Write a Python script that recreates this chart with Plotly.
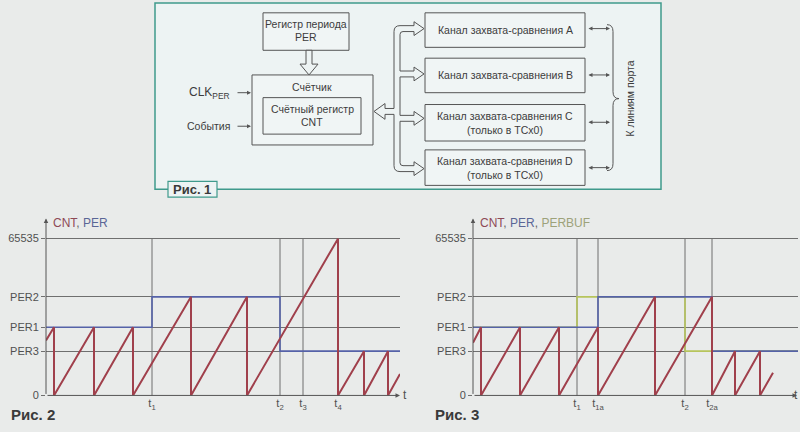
import plotly.graph_objects as go

W, H = 800, 432

# ------------------------------------------------------------------ data
PER1, PER2, PER3, CNT_MAX = 28500, 41200, 18500, 65535

y_tick_vals = [0, PER3, PER1, PER2, CNT_MAX]
y_tick_text = ["0", "PER3", "PER1", "PER2", "65535"]

# Рис. 2
fig2_t = [0, 8, 8, 48, 48, 87, 87, 145, 145, 201, 201, 292, 292, 318, 318, 342, 342, 354]
fig2_cnt = [23000, PER1, 0, PER1, 0, PER1, 0, PER2, 0, PER2, 0, CNT_MAX, 0, PER3, 0, PER3, 0, 9000]
fig2_per_t = [0, 106, 106, 234, 234, 354]
fig2_per = [PER1, PER1, PER2, PER2, PER3, PER3]
fig2_marks = [106, 234, 257, 292]
fig2_mark_labels = ["t<sub>1</sub>", "t<sub>2</sub>", "t<sub>3</sub>", "t<sub>4</sub>"]

# Рис. 3
fig3_t = [0, 8, 8, 47, 47, 86, 86, 125, 125, 182, 182, 239, 239, 262, 262, 287, 287, 300]
fig3_cnt = [22000, PER1, 0, PER1, 0, PER1, 0, PER1, 0, PER2, 0, PER2, 0, PER3, 0, PER3, 0, 9500]
fig3_per_t = [0, 125, 125, 239, 239, 325]
fig3_per = [PER1, PER1, PER2, PER2, PER3, PER3]
fig3_buf_t = [0, 104, 104, 212, 212, 325]
fig3_buf = [PER1, PER1, PER2, PER2, PER3, PER3]
fig3_marks = [104, 125, 212, 239]
fig3_mark_labels = ["t<sub>1</sub>", "t<sub>1a</sub>", "t<sub>2</sub>", "t<sub>2a</sub>"]

# block diagram labels
channel_labels = [
    ["Канал захвата-сравнения A"],
    ["Канал захвата-сравнения B"],
    ["Канал захвата-сравнения C", "(только в TCx0)"],
    ["Канал захвата-сравнения D", "(только в TCx0)"],
]

# ------------------------------------------------------------------ style
FONT = "Liberation Sans, Arial, sans-serif"
BG = "#e9ebea"
FRAME_FILL = "#edf3f3"
TEAL = "#3f9a8c"
INK = "#505050"
GRID = "#6f6f6f"
RED = "#a0404c"
BLUE = "#5562a8"
GREEN = "#b7c55c"

Y_TOP = 74600
X1_RANGE = [0, 354]
X2_RANGE = [0, 325]


def px(x):
    return x / W


def py(y):
    return 1 - y / H


def pt(x, y):
    return f"{px(x):.5f},{py(y):.5f}"


fig = go.Figure()

# ------------------------------------------------------------------ traces
fig.add_trace(go.Scatter(x=fig2_per_t, y=fig2_per, mode="lines",
                         line=dict(color=BLUE, width=1.6), xaxis="x", yaxis="y",
                         hoverinfo="skip", showlegend=False))
fig.add_trace(go.Scatter(x=fig2_t, y=fig2_cnt, mode="lines",
                         line=dict(color=RED, width=2), xaxis="x", yaxis="y",
                         hoverinfo="skip", showlegend=False))

fig.add_trace(go.Scatter(x=fig3_buf_t, y=fig3_buf, mode="lines",
                         line=dict(color=GREEN, width=1.6), xaxis="x2", yaxis="y2",
                         hoverinfo="skip", showlegend=False))
fig.add_trace(go.Scatter(x=fig3_per_t, y=fig3_per, mode="lines",
                         line=dict(color=BLUE, width=1.6), xaxis="x2", yaxis="y2",
                         hoverinfo="skip", showlegend=False))
fig.add_trace(go.Scatter(x=fig3_t, y=fig3_cnt, mode="lines",
                         line=dict(color=RED, width=2), xaxis="x2", yaxis="y2",
                         hoverinfo="skip", showlegend=False))

# ------------------------------------------------------------------ axes
ydom = [py(401), py(220)]
yaxis_common = dict(range=[0, Y_TOP], domain=ydom, tickvals=y_tick_vals, ticktext=y_tick_text,
                    showgrid=True, gridcolor=GRID, gridwidth=1, zeroline=False, showline=False,
                    ticks="outside", ticklen=4, tickcolor=GRID,
                    tickfont=dict(family=FONT, size=11, color=INK), fixedrange=True)
xaxis_common = dict(showgrid=False, zeroline=False, showline=False, ticks="",
                    tickfont=dict(family=FONT, size=11, color=INK), fixedrange=True)

fig.update_layout(
    xaxis=dict(domain=[px(46), px(400)], range=X1_RANGE, anchor="y",
               tickvals=fig2_marks, ticktext=fig2_mark_labels, **xaxis_common),
    yaxis=dict(anchor="x", **yaxis_common),
    xaxis2=dict(domain=[px(473), px(798)], range=X2_RANGE, anchor="y2",
                tickvals=fig3_marks, ticktext=fig3_mark_labels, **xaxis_common),
    yaxis2=dict(anchor="x2", **yaxis_common),
)

shapes = []
annotations = []

# vertical time marker lines
for t in fig2_marks:
    shapes.append(dict(type="line", xref="x", yref="y", x0=t, x1=t, y0=-1200, y1=CNT_MAX,
                       line=dict(color=GRID, width=1), layer="below"))
for t in fig3_marks:
    shapes.append(dict(type="line", xref="x2", yref="y2", x0=t, x1=t, y0=-1200, y1=CNT_MAX,
                       line=dict(color=GRID, width=1), layer="below"))

# axis arrows
for xr, yr, xend in (("x", "y", X1_RANGE[1]), ("x2", "y2", X2_RANGE[1] - 1)):
    annotations.append(dict(xref=xr, yref=yr, axref=xr, ayref=yr, x=0, y=Y_TOP - 600, ax=0, ay=0,
                            text="", showarrow=True, arrowhead=2, arrowsize=0.9,
                            arrowwidth=1, arrowcolor="#555555"))
    annotations.append(dict(xref=xr, yref=yr, axref=xr, ayref=yr, x=xend, y=0, ax=0, ay=0,
                            text="", showarrow=True, arrowhead=2, arrowsize=0.9,
                            arrowwidth=1, arrowcolor="#555555"))

# axis "t" labels
annotations.append(dict(xref="paper", yref="paper", x=px(401), y=py(401), text="t",
                        showarrow=False, xanchor="left", yanchor="middle",
                        font=dict(family=FONT, size=12, color=INK)))
annotations.append(dict(xref="paper", yref="paper", x=px(792), y=py(401), text="t",
                        showarrow=False, xanchor="left", yanchor="middle",
                        font=dict(family=FONT, size=12, color=INK)))

# series titles
annotations.append(dict(xref="paper", yref="paper", x=px(51), y=py(226),
                        text='<span style="color:#8e4a56">CNT</span>, <span style="color:#5a6696">PER</span>',
                        showarrow=False, xanchor="left", yanchor="middle",
                        font=dict(family=FONT, size=12, color="#666666")))
annotations.append(dict(xref="paper", yref="paper", x=px(478), y=py(226),
                        text='<span style="color:#8e4a56">CNT</span>, <span style="color:#5a6696">PER</span>, '
                             '<span style="color:#9da27a">PERBUF</span>',
                        showarrow=False, xanchor="left", yanchor="middle",
                        font=dict(family=FONT, size=12, color="#666666")))

# figure captions
annotations.append(dict(xref="paper", yref="paper", x=px(9), y=py(420), text="<b>Рис. 2</b>",
                        showarrow=False, xanchor="left", yanchor="middle",
                        font=dict(family=FONT, size=15, color="#3a3a3a")))
annotations.append(dict(xref="paper", yref="paper", x=px(433), y=py(420), text="<b>Рис. 3</b>",
                        showarrow=False, xanchor="left", yanchor="middle",
                        font=dict(family=FONT, size=15, color="#3a3a3a")))

# ------------------------------------------------------------------ block diagram (Рис. 1)
def rect(x0, y0, x1, y1, line=INK, fill=FRAME_FILL, width=1):
    return dict(type="rect", xref="paper", yref="paper", x0=px(x0), x1=px(x1), y0=py(y1), y1=py(y0),
                line=dict(color=line, width=width), fillcolor=fill, layer="above")


def text(x, y, s, size=10.5, anchor="center", color="#3c3c3c", angle=0):
    return dict(xref="paper", yref="paper", x=px(x), y=py(y), text=s, showarrow=False,
                xanchor=anchor, yanchor="middle", textangle=angle,
                font=dict(family=FONT, size=size, color=color))


BOX = "#555555"
BOX_FILL = "#f0f5f5"
shapes.append(rect(155, 3, 661, 192, line=TEAL, fill=FRAME_FILL, width=1.5))

shapes.append(rect(263, 13, 349, 51, line=BOX, fill=BOX_FILL))
shapes.append(rect(252, 76, 373, 147, line=BOX, fill=BOX_FILL))
shapes.append(rect(263, 99, 361, 136, line=BOX, fill=BOX_FILL))
box_rows = [(13, 48), (59, 94), (106, 143), (152, 188)]
for (y0, y1) in box_rows:
    shapes.append(rect(425, y0, 585, y1, line=BOX, fill=BOX_FILL))

# hollow arrow PER -> counter
p = ("M" + pt(306, 51) + " L" + pt(306, 65) + " L" + pt(300, 65) + " L" + pt(309, 76) +
     " L" + pt(318, 65) + " L" + pt(312, 65) + " L" + pt(312, 51) + " Z")
shapes.append(dict(type="path", xref="paper", yref="paper", path=p,
                   line=dict(color=BOX, width=1), fillcolor=FRAME_FILL, layer="above"))

# hollow bus
bx0, bx1, hx, tip = 394, 400, 414, 424
yA, yB, yC, yD, yL = 29, 75, 120, 171, 113
lh, ltip = 385, 374
r, r2 = 6, 3


def head(y):
    return [(hx, y - 3), (hx, y - 7), (tip, y), (hx, y + 7), (hx, y + 3)]


segs = ["M" + pt(bx0, yA - 3 + r), "Q" + pt(bx0, yA - 3) + " " + pt(bx0 + r, yA - 3)]
pts = head(yA) + [(bx1 + r2, yA + 3)]
segs += ["L" + pt(*q) for q in pts]
segs.append("Q" + pt(bx1, yA + 3) + " " + pt(bx1, yA + 3 + r2))
pts = [(bx1, yB - 3)] + head(yB) + [(bx1, yB + 3), (bx1, yC - 3)] + head(yC) + \
      [(bx1, yC + 3), (bx1, yD - 3 - r2)]
segs += ["L" + pt(*q) for q in pts]
segs.append("Q" + pt(bx1, yD - 3) + " " + pt(bx1 + r2, yD - 3))
pts = head(yD) + [(bx0 + r, yD + 3)]
segs += ["L" + pt(*q) for q in pts]
segs.append("Q" + pt(bx0, yD + 3) + " " + pt(bx0, yD + 3 - r))
pts = [(bx0, yL + 3), (lh, yL + 3), (lh, yL + 8), (ltip, yL), (lh, yL - 8), (lh, yL - 3), (bx0, yL - 3)]
segs += ["L" + pt(*q) for q in pts]
segs.append("Z")
shapes.append(dict(type="path", xref="paper", yref="paper", path=" ".join(segs),
                   line=dict(color=BOX, width=1), fillcolor=FRAME_FILL, layer="above"))

# brace
bp = ("M" + pt(607, 25) + " Q" + pt(613, 25) + " " + pt(613, 32) + " L" + pt(613, 93) +
      " Q" + pt(613, 100) + " " + pt(619, 100) + " Q" + pt(613, 100) + " " + pt(613, 107) +
      " L" + pt(613, 166) + " Q" + pt(613, 173) + " " + pt(607, 173))
shapes.append(dict(type="path", xref="paper", yref="paper", path=bp,
                   line=dict(color=BOX, width=1), layer="above"))

# "Рис. 1" tag
shapes.append(rect(168, 184, 217, 200, line=TEAL, fill=FRAME_FILL, width=1.2))
annotations.append(text(192, 192, "<b>Рис. 1</b>", size=13, color="#3a3a3a"))

# texts
annotations.append(text(306, 24, "Регистр периода"))
annotations.append(text(306, 38, "PER"))
annotations.append(text(312, 88, "Счётчик"))
annotations.append(text(312, 111, "Счётный регистр"))
annotations.append(text(312, 124, "CNT"))
annotations.append(text(232, 94, "CLK<sub>PER</sub>", size=12, anchor="right"))
annotations.append(text(232, 128, "События", anchor="right"))
for (y0, y1), lines in zip(box_rows, channel_labels):
    mid = (y0 + y1) / 2
    if len(lines) == 1:
        annotations.append(text(505, mid, lines[0]))
    else:
        annotations.append(text(505, mid - 7, lines[0]))
        annotations.append(text(505, mid + 7, lines[1]))
annotations.append(text(630, 100, "К линиям порта", angle=-90))

# input arrows
for yy in (94, 128):
    annotations.append(dict(xref="paper", yref="paper", x=px(251), y=py(yy), ax=-15, ay=0,
                            text="", showarrow=True, arrowhead=2, arrowsize=0.8,
                            arrowwidth=1, arrowcolor=BOX))
# port double arrows
for yy in (29, 76, 124, 170):
    annotations.append(dict(xref="paper", yref="paper", x=px(610), y=py(yy), ax=-23, ay=0,
                            text="", showarrow=True, arrowhead=2, startarrowhead=2,
                            arrowside="end+start", arrowsize=0.8, startarrowsize=0.8,
                            arrowwidth=1, arrowcolor=BOX))

fig.update_layout(
    width=W, height=H, autosize=False, margin=dict(l=0, r=0, t=0, b=0),
    paper_bgcolor=BG, plot_bgcolor="rgba(0,0,0,0)",
    shapes=shapes, annotations=annotations, showlegend=False,
    font=dict(family=FONT),
)

fig.write_html(
    "out.html",
    config={"displayModeBar": False, "staticPlot": True, "responsive": False},
    post_script="document.documentElement.style.margin='0';document.body.style.margin='0';"
                "document.body.style.padding='0';document.body.style.overflow='hidden';"
                "document.body.style.background='" + BG + "';",
)
